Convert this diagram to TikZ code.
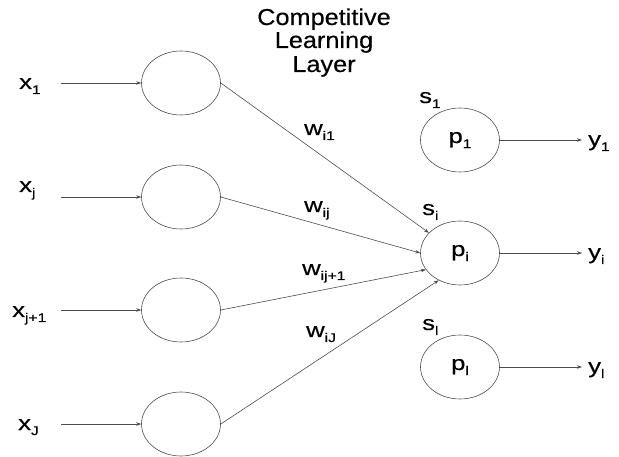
\documentclass[tikz,border=0pt]{standalone}
\usepackage{fontspec}
\setmainfont{Liberation Sans}
\newfontfamily\widefont[FakeStretch=1.25,FakeBold=0.4]{Liberation Sans}
\newfontfamily\titlefont[FakeStretch=1.1,FakeBold=0.3]{Liberation Sans}
\usetikzlibrary{arrows.meta,shapes.geometric}
\newcommand\mylbl[2]{{\fontsize{20.5}{20.5}\selectfont\widefont #1}\raisebox{-5pt}{\fontsize{12.5}{12.5}\selectfont\widefont #2}}
\begin{document}
\begin{tikzpicture}[x=1pt,y=-1pt,
  neuron/.style={draw=black!70, line width=0.6pt, ellipse, minimum width=79pt, minimum height=64pt, inner sep=0pt},
  conn/.style={draw=black!70, line width=0.6pt, -{Stealth[length=5pt,width=3.5pt]}},
  lbl/.style={anchor=base west, inner sep=0pt},
  ttl/.style={anchor=base, inner sep=0pt, font=\fontsize{23}{23}\selectfont\titlefont}]
\useasboundingbox (0,0) rectangle (619,457);
% title
\node[ttl] (t1) at (324,25) {Competitive};
\node[ttl] (t2) at (324,48) {Learning};
\node[ttl] (t3) at (324,72) {Layer};
% input neurons
\node[neuron] (in1) at (181,83) {};
\node[neuron] (in2) at (181,197) {};
\node[neuron] (in3) at (181,310) {};
\node[neuron] (in4) at (181,424) {};
% input labels
\node[lbl] (x1) at (19,89) {\mylbl{x}{1}};
\node[lbl] (x2) at (19,192) {\mylbl{x}{j}};
\node[lbl] (x3) at (12,317) {\mylbl{x}{j+1}};
\node[lbl] (x4) at (18,430) {\mylbl{x}{J}};
\coordinate (a1) at (61,83);
\coordinate (a2) at (61,197);
\coordinate (a3) at (61,310);
\coordinate (a4) at (61,424);
\draw[conn] (a1) -- (in1);
\draw[conn] (a2) -- (in2);
\draw[conn] (a3) -- (in3);
\draw[conn] (a4) -- (in4);
% output neurons
\node[neuron] (o1) at (460,140) {\mylbl{p}{1}};
\node[neuron] (oi) at (460,253) {\mylbl{p}{i}};
\node[neuron] (ol) at (460,367) {\mylbl{p}{l}};
% s labels
\node[lbl] (s1) at (419,103) {\mylbl{s}{1}};
\node[lbl] (si) at (422,215) {\mylbl{s}{i}};
\node[lbl] (sl) at (422,330) {\mylbl{s}{l}};
% weights
\draw[conn] (in1.east) -- (oi.147);
\draw[conn] (in2.east) -- (oi.180);
\draw[conn] (in3.east) -- (oi.206);
\draw[conn] (in4.east) -- (oi.232);
\node[lbl] (w1) at (304,135) {\mylbl{w}{i1}};
\node[lbl] (w2) at (304,212) {\mylbl{w}{ij}};
\node[lbl] (w3) at (302,275) {\mylbl{w}{ij+1}};
\node[lbl] (w4) at (306,337) {\mylbl{w}{iJ}};
% outputs
\coordinate (b1) at (582,140);
\coordinate (bi) at (582,253);
\coordinate (bl) at (582,367);
\draw[conn] (o1) -- (b1);
\draw[conn] (oi) -- (bi);
\draw[conn] (ol) -- (bl);
\node[lbl] (y1) at (588,146) {\mylbl{y}{1}};
\node[lbl] (yi) at (588,259) {\mylbl{y}{i}};
\node[lbl] (yl) at (588,373) {\mylbl{y}{l}};
\end{tikzpicture}
\end{document}
